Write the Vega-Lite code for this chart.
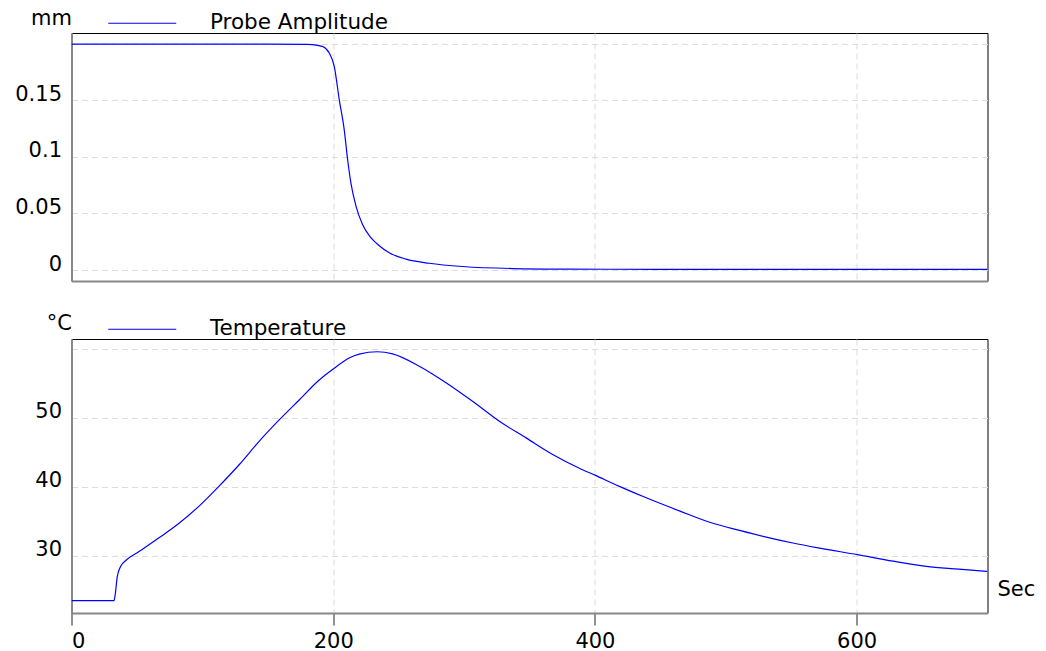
{
  "$schema": "https://vega.github.io/schema/vega-lite/v6.json",
  "padding": {"left": 13.5, "top": 6, "right": 4, "bottom": 2},
  "background": "white",
  "bounds": "flush",
  "spacing": 58,
  "config": {
    "font": "DejaVu Sans",
    "view": {"stroke": "#000000", "strokeWidth": 1},
    "axis": {
      "labelFont": "DejaVu Sans", "labelFontSize": 21, "labelColor": "#000000",
      "titleFont": "DejaVu Sans", "titleFontSize": 21, "titleFontWeight": "normal", "titleColor": "#000000",
      "gridColor": "#dcdcdc", "gridDash": [6, 4], "gridWidth": 1,
      "domainColor": "#888888", "domainWidth": 2
    },
    "legend": {"labelFont": "DejaVu Sans", "labelFontSize": 21.5, "labelColor": "#000000", "labelLimit": 400}
  },
  "datasets": {
    "amp": [
      {"t": 0, "v": 0.1995}, {"t": 50, "v": 0.1996}, {"t": 100, "v": 0.1995}, {"t": 150, "v": 0.1995},
      {"t": 180, "v": 0.1993}, {"t": 188, "v": 0.1985}, {"t": 192, "v": 0.1975}, {"t": 197, "v": 0.1917},
      {"t": 200.8, "v": 0.18}, {"t": 204.6, "v": 0.1506}, {"t": 208.4, "v": 0.124}, {"t": 211, "v": 0.0976},
      {"t": 213.5, "v": 0.077}, {"t": 217.4, "v": 0.0565}, {"t": 222.4, "v": 0.0403}, {"t": 228.8, "v": 0.0286},
      {"t": 235.2, "v": 0.0215}, {"t": 242.8, "v": 0.0153}, {"t": 255.6, "v": 0.0096}, {"t": 273.4, "v": 0.006},
      {"t": 298.9, "v": 0.0031}, {"t": 337, "v": 0.0013}, {"t": 380, "v": 0.0008}, {"t": 450, "v": 0.0006},
      {"t": 550, "v": 0.0005}, {"t": 700, "v": 0.0005}
    ],
    "temp": [
      {"t": 0, "v": 23.47}, {"t": 32.5, "v": 23.47}, {"t": 33.5, "v": 24.5}, {"t": 35, "v": 27.0},
      {"t": 37.6, "v": 28.45}, {"t": 41.5, "v": 29.3}, {"t": 51.6, "v": 30.6}, {"t": 66.9, "v": 32.6},
      {"t": 82.2, "v": 34.7}, {"t": 97.5, "v": 37.2}, {"t": 112.8, "v": 40.1}, {"t": 128.1, "v": 43.2},
      {"t": 143.4, "v": 46.6}, {"t": 158.7, "v": 49.7}, {"t": 174, "v": 52.6}, {"t": 189.3, "v": 55.5},
      {"t": 200, "v": 57.1}, {"t": 212.2, "v": 58.7}, {"t": 219.9, "v": 59.25}, {"t": 233.9, "v": 59.6},
      {"t": 245.4, "v": 59.3}, {"t": 265.8, "v": 57.5}, {"t": 286.2, "v": 55.1}, {"t": 306.5, "v": 52.4},
      {"t": 327, "v": 49.5}, {"t": 347.4, "v": 47.1}, {"t": 367.7, "v": 44.7}, {"t": 388.1, "v": 42.7},
      {"t": 400.4, "v": 41.65}, {"t": 418.7, "v": 40.06}, {"t": 439.2, "v": 38.4}, {"t": 464.6, "v": 36.5},
      {"t": 490.1, "v": 34.7}, {"t": 510.5, "v": 33.67}, {"t": 530.9, "v": 32.7}, {"t": 551.3, "v": 31.84},
      {"t": 571.7, "v": 31.1}, {"t": 600.5, "v": 30.15}, {"t": 627.8, "v": 29.2}, {"t": 653.3, "v": 28.45},
      {"t": 678, "v": 28.05}, {"t": 700, "v": 27.7}
    ]
  },
  "resolve": {"scale": {"color": "independent", "y": "independent"}, "legend": {"color": "independent"}},
  "vconcat": [
    {
      "width": 916,
      "height": 248,
      "data": {"name": "amp"},
      "mark": {"type": "line", "strokeWidth": 1.2, "clip": true, "interpolate": "monotone"},
      "encoding": {
        "x": {
          "field": "t", "type": "quantitative",
          "scale": {"domain": [0, 700], "nice": false, "zero": false},
          "axis": {"values": [0, 200, 400, 600], "labels": false, "ticks": false, "title": null, "grid": true}
        },
        "y": {
          "field": "v", "type": "quantitative",
          "scale": {"domain": [-0.0097, 0.2094], "nice": false, "zero": false},
          "axis": {
            "values": [0, 0.05, 0.1, 0.15, 0.2], "format": "~g",
            "labelExpr": "datum.value > 0.19 ? '' : datum.label",
            "ticks": false, "labelPadding": 10, "labelBaseline": "alphabetic",
            "title": "mm", "titleAngle": 0, "titleAlign": "right", "titleBaseline": "alphabetic",
            "titleX": 0, "titleY": -9
          }
        },
        "color": {
          "datum": "Probe Amplitude",
          "scale": {"range": ["#0000ff"]},
          "legend": {
            "title": null, "orient": "none", "legendX": 60, "legendY": -20.5,
            "symbolType": "M-5,0L5,0", "symbolSize": 185, "symbolStrokeWidth": 1,
            "labelOffset": 57, "labelBaseline": "middle", "padding": 0
          }
        }
      }
    },
    {
      "width": 916,
      "height": 274,
      "data": {"name": "temp"},
      "mark": {"type": "line", "strokeWidth": 1.2, "clip": true, "interpolate": "monotone"},
      "encoding": {
        "x": {
          "field": "t", "type": "quantitative",
          "scale": {"domain": [0, 700], "nice": false, "zero": false},
          "axis": {
            "values": [0, 200, 400, 600], "format": "d", "grid": true,
            "ticks": true, "tickSize": 12, "tickColor": "#222222", "tickWidth": 1,
            "labelPadding": 5,
            "title": "Sec", "titleX": 925.5, "titleY": -18, "titleAlign": "left",
            "titleAnchor": null, "titleBaseline": "alphabetic"
          }
        },
        "y": {
          "field": "v", "type": "quantitative",
          "scale": {"domain": [21.68, 61.45], "nice": false, "zero": false},
          "axis": {
            "values": [30, 40, 50, 60],
            "labelExpr": "datum.value > 59 ? '' : datum.label",
            "ticks": false, "labelPadding": 10, "labelBaseline": "alphabetic",
            "title": "°C", "titleAngle": 0, "titleAlign": "right", "titleBaseline": "alphabetic",
            "titleX": 0, "titleY": -10
          }
        },
        "color": {
          "datum": "Temperature",
          "scale": {"range": ["#0000ff"]},
          "legend": {
            "title": null, "orient": "none", "legendX": 60, "legendY": -20.5,
            "symbolType": "M-5,0L5,0", "symbolSize": 185, "symbolStrokeWidth": 1,
            "labelOffset": 57, "labelBaseline": "middle", "padding": 0
          }
        }
      }
    }
  ]
}
